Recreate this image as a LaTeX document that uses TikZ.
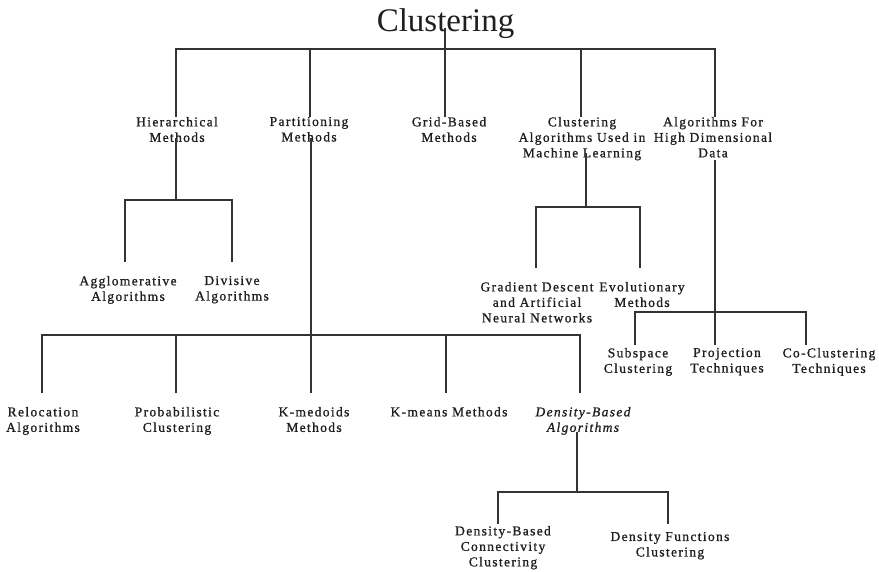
\documentclass[tikz,border=0pt]{standalone}
\usepackage{fontspec}
\setmainfont{Liberation Serif}
\newfontfamily\labfont[LetterSpace=10,FakeBold=1]{Liberation Serif}
\begin{document}
\begin{tikzpicture}[x=1pt,y=-1pt,
  edge/.style={draw=black!80, line width=1.3pt},
  lab/.style={font=\labfont\fontsize{13.5}{15.5}\selectfont, align=center,
              inner sep=0pt, anchor=north, text=black!88},
  headline/.style={font=\fontsize{33}{36}\selectfont, inner sep=0pt,
              anchor=base, text=black!88},
]
\useasboundingbox (0,0) rectangle (879,571);

% root
\node[headline] (root) at (445.5,31) {Clustering};
\coordinate (stem) at (445,28);

% first level
\node[lab] (hier) at (177,116.8) {Hierarchical\\Methods};
\node[lab] (part) at (309,116.8) {Partitioning\\Methods};
\node[lab] (grid) at (449,116.8) {Grid-Based\\Methods};
\node[lab] (mlc)  at (582,116.8) {Clustering\\Algorithms Used in\\Machine Learning};
\node[lab] (hdd)  at (713,116.8) {Algorithms For\\High Dimensional\\Data};

% hierarchical methods
\node[lab] (agg) at (128,275.8) {Agglomerative\\Algorithms};
\node[lab] (div) at (232,275.8) {Divisive\\Algorithms};

% machine learning
\node[lab] (grad) at (537,281.8) {Gradient Descent\\and Artificial\\Neural Networks};
\node[lab] (evo)  at (642,281.8) {Evolutionary\\Methods};

% high dimensional data
\node[lab] (sub)  at (638,347.8) {Subspace\\Clustering};
\node[lab] (proj) at (727,347.8) {Projection\\Techniques};
\node[lab] (cocl) at (829,347.8) {Co-Clustering\\Techniques};

% partitioning methods
\node[lab] (reloc)  at (43,406.8)  {Relocation\\Algorithms};
\node[lab] (prob)   at (177,406.8) {Probabilistic\\Clustering};
\node[lab] (kmed)   at (314,406.8) {K-medoids\\Methods};
\node[lab] (kmeans) at (449,406.8) {K-means Methods};
\node[lab] (dens)   at (583,406.8) {\itshape Density-Based\\\itshape Algorithms};

% density-based algorithms
\node[lab] (dbc) at (503,525.8) {Density-Based\\Connectivity\\Clustering};
\node[lab] (dfc) at (670,531.8) {Density Functions\\Clustering};

% ---- connectors ----
% root
\draw[edge] (stem) -- (grid.north -| stem);
\draw[edge] (hier.north -| 176,0) |- (715,49) -- (hdd.north -| 715,0);
\draw[edge] (part.north -| 310,0) -- (310,49);
\draw[edge] (mlc.north -| 581,0) -- (581,49);

% hierarchical
\draw[edge] (176,138) -- (176,200);
\draw[edge, shorten <=13.8pt, shorten >=13.8pt] (agg.north -| 125,0) |- (232,200) -- (div.north -| 232,0);

% partitioning
\draw[edge] (311,138) -- (311,335);
\draw[edge, shorten <=13.8pt, shorten >=13.8pt] (reloc.north -| 42,0) |- (580,335) -- (dens.north -| 580,0);
\draw[edge, shorten <=13.8pt] (prob.north -| 176,0) -- (176,335);
\draw[edge, shorten <=13.8pt] (kmed.north -| 311,0) -- (311,335);
\draw[edge, shorten <=13.8pt] (kmeans.north -| 446,0) -- (446,335);

% machine learning
\draw[edge] (586,153) -- (586,207);
\draw[edge, shorten <=13.8pt, shorten >=13.8pt] (grad.north -| 536,0) |- (640,207) -- (evo.north -| 640,0);

% high dimensional
\draw[edge, shorten >=2.8pt] (715,160) -- (proj.north -| 715,0);
\draw[edge, shorten <=2.8pt, shorten >=2.8pt] (sub.north -| 635,0) |- (806,312) -- (cocl.north -| 806,0);

% density-based
\draw[edge] (577,432) -- (577,492);
\draw[edge, shorten <=1.8pt, shorten >=7.8pt] (dbc.north -| 498,0) |- (668,492) -- (dfc.north -| 668,0);
\end{tikzpicture}
\end{document}
